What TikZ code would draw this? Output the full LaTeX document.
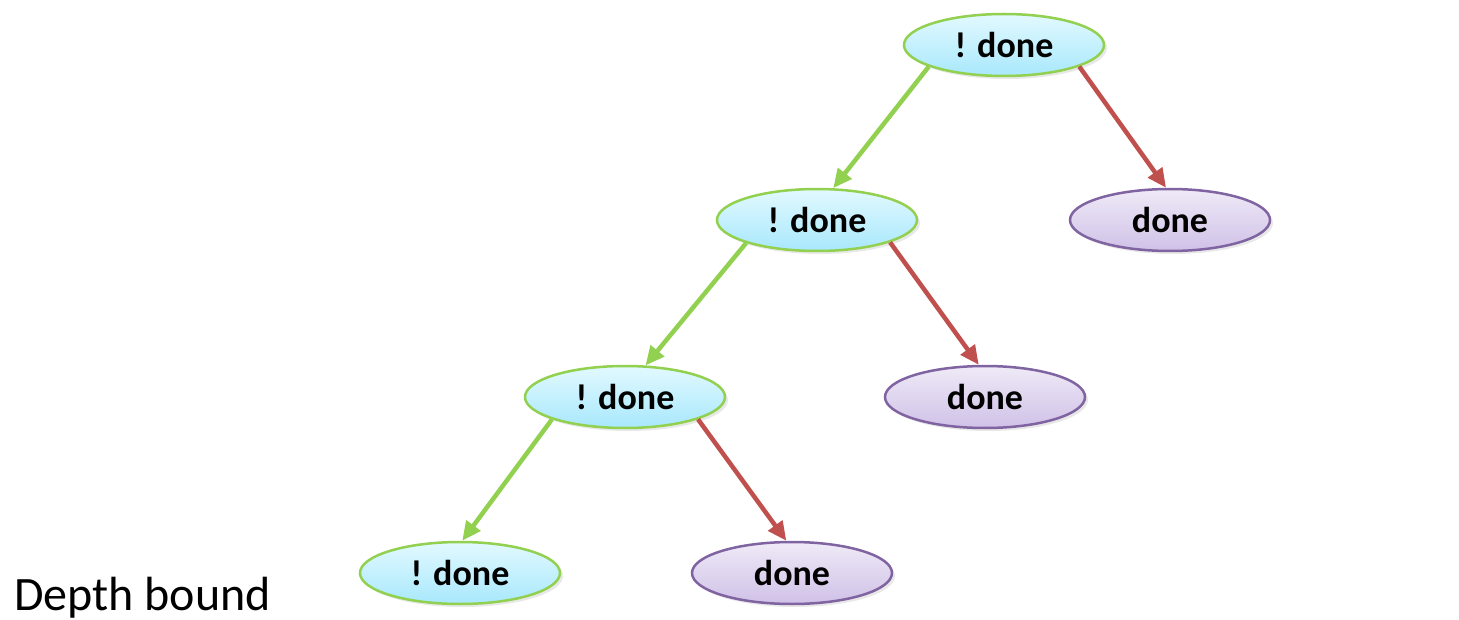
\documentclass[tikz,border=0pt]{standalone}
\usepackage{fontspec}
\setmainfont{Carlito}
\usetikzlibrary{shapes.geometric,arrows.meta,shadows}
\definecolor{gline}{HTML}{92D050}
\definecolor{rline}{HTML}{C0504D}
\definecolor{pline}{HTML}{8064A2}
\definecolor{btop}{HTML}{E2F9FF}
\definecolor{bbot}{HTML}{A8E8FC}
\definecolor{ptop}{HTML}{EFEAF7}
\definecolor{pbot}{HTML}{D0C1E7}
\tikzset{
  statebox/.style={ellipse, minimum width=200pt, minimum height=62pt, inner sep=0pt,
    line width=2.5pt, font=\fontsize{36}{42}\selectfont\bfseries,
    drop shadow={opacity=0.18, shadow xshift=3pt, shadow yshift=-3pt}},
  notdone/.style={statebox, draw=gline, top color=btop, bottom color=bbot},
  isdone/.style={statebox, draw=pline, top color=ptop, bottom color=pbot},
  goarrow/.style={line width=4.5pt, -{Triangle[length=19pt,width=17pt]}},
  yes/.style={goarrow, draw=gline, fill=gline},
  no/.style={goarrow, draw=rline, fill=rline}
}
\begin{document}
\begin{tikzpicture}[x=1pt,y=-1pt]
\useasboundingbox (0,0) rectangle (1459,620);
\node[notdone] (a) at (1004,45) {! done};
\node[notdone] (b) at (817,220) {! done};
\node[isdone]  (c) at (1170,220) {done};
\node[notdone] (d) at (625,397) {! done};
\node[isdone]  (e) at (985,397) {done};
\node[notdone] (f) at (460,573) {! done};
\node[isdone]  (g) at (792,573) {done};

\draw[yes] (a.196) -- (b.63);
\draw[no]  (a.344) -- (c.97);
\draw[yes] (b.198) -- (d.57);
\draw[no]  (b.343) -- (e.101);
\draw[yes] (d.197) -- (f.86);
\draw[no]  (d.343) -- (g.100);

\node[anchor=base west, inner sep=0pt, font=\fontsize{48}{54}\selectfont] (lbl) at (14,610) {Depth bound};
\end{tikzpicture}
\end{document}
